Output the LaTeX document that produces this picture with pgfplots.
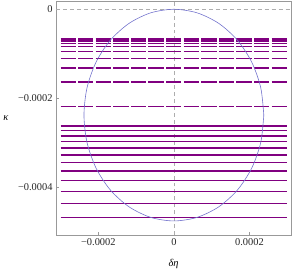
\documentclass[border=0pt]{standalone}
\usepackage{fontspec}
\setmainfont{Liberation Serif}
\usepackage{pgfplots}
\pgfplotsset{compat=1.18}
\definecolor{pdark}{RGB}{128,0,128}
\definecolor{circ}{RGB}{115,115,205}
\definecolor{frame}{RGB}{153,153,153}
\begin{document}
\begin{tikzpicture}
\begin{axis}[
  name=ax,
  scale only axis,
  width=236.5bp, height=235.7bp,
  xmin=-0.000312, xmax=0.00031,
  ymin=-0.000508, ymax=0.0000186,
  axis line style={frame, line width=0.6pt},
  tick style={frame, line width=0.5pt},
  major tick length=3bp,
  tick align=inside,
  xtick={-0.0002,0,0.0002},
  xticklabels={−0.0002,0,0.0002},
  ytick={-0.0004,-0.0002,0},
  yticklabels={−0.0004,−0.0002,0},
  scaled ticks=false,
  tick label style={font=\fontsize{10.5}{12}\selectfont, black!85},
  xtick pos=bottom, ytick pos=left,
  xlabel={\textit{δη}},
  ylabel={\textit{κ}},
  xlabel style={at={(axis description cs:0.5,0)}, anchor=center, yshift=-29bp, font=\fontsize{10.5}{12}\selectfont},
  ylabel style={rotate=-90, at={(axis description cs:0,0.5)}, anchor=center, xshift=-50.5bp, font=\fontsize{10.5}{12}\selectfont},
  sline/.style={pdark, line width=1.5bp, line cap=butt, forget plot},
  dline/.style={pdark, line width=1.5bp, line cap=butt, dash pattern=on 15.4bp off 2.3bp, forget plot},
  gline/.style={frame!80, line width=0.5bp, dash pattern=on 4bp off 3bp, forget plot},
]
% reference dashed lines
\addplot[gline] coordinates {(0,-0.000508) (0,0.0000186)};
\addplot[gline] coordinates {(-0.000312,0) (0.00031,0)};
% dashed levels
\addplot[dline] coordinates {(-0.0003,-6.64e-5) (0.0003,-6.64e-5)};
\addplot[dline] coordinates {(-0.0003,-7.15e-5) (0.0003,-7.15e-5)};
\addplot[dline] coordinates {(-0.0003,-7.69e-5) (0.0003,-7.69e-5)};
\addplot[dline] coordinates {(-0.0003,-8.36e-5) (0.0003,-8.36e-5)};
\addplot[dline] coordinates {(-0.0003,-9.47e-5) (0.0003,-9.47e-5)};
\addplot[dline] coordinates {(-0.0003,-1.104e-4) (0.0003,-1.104e-4)};
\addplot[dline] coordinates {(-0.0003,-1.318e-4) (0.0003,-1.318e-4)};
\addplot[dline] coordinates {(-0.0003,-1.640e-4) (0.0003,-1.640e-4)};
\addplot[dline] coordinates {(-0.0003,-2.190e-4) (0.0003,-2.190e-4)};
% solid levels
\addplot[sline] coordinates {(-0.0003,-2.623e-4) (0.0003,-2.623e-4)};
\addplot[sline] coordinates {(-0.0003,-2.731e-4) (0.0003,-2.731e-4)};
\addplot[sline] coordinates {(-0.0003,-2.847e-4) (0.0003,-2.847e-4)};
\addplot[sline] coordinates {(-0.0003,-2.972e-4) (0.0003,-2.972e-4)};
\addplot[sline] coordinates {(-0.0003,-3.122e-4) (0.0003,-3.122e-4)};
\addplot[sline] coordinates {(-0.0003,-3.278e-4) (0.0003,-3.278e-4)};
\addplot[sline] coordinates {(-0.0003,-3.446e-4) (0.0003,-3.446e-4)};
\addplot[sline] coordinates {(-0.0003,-3.636e-4) (0.0003,-3.636e-4)};
\addplot[sline] coordinates {(-0.0003,-3.852e-4) (0.0003,-3.852e-4)};
\addplot[sline] coordinates {(-0.0003,-4.098e-4) (0.0003,-4.098e-4)};
\addplot[sline] coordinates {(-0.0003,-4.362e-4) (0.0003,-4.362e-4)};
\addplot[sline] coordinates {(-0.0003,-4.681e-4) (0.0003,-4.681e-4)};
% circle
\addplot[circ, line width=0.6bp, smooth, forget plot] coordinates {
(238e-6,-238e-6) (229.9e-6,-176.4e-6) (206.1e-6,-119e-6) (168.3e-6,-69.7e-6)
(119e-6,-31.9e-6) (61.6e-6,-8.1e-6) (0,0) (-61.6e-6,-8.1e-6)
(-119e-6,-31.9e-6) (-168.3e-6,-69.7e-6) (-206.1e-6,-119e-6) (-229.9e-6,-176.4e-6)
(-238e-6,-238e-6) (-229.9e-6,-299.6e-6) (-206.1e-6,-357e-6) (-168.3e-6,-406.3e-6)
(-119e-6,-444.1e-6) (-61.6e-6,-467.9e-6) (0,-476e-6) (61.6e-6,-467.9e-6)
(119e-6,-444.1e-6) (168.3e-6,-406.3e-6) (206.1e-6,-357e-6) (229.9e-6,-299.6e-6)
(238e-6,-238e-6)
};
\end{axis}
\path (ax.south west) ++(-54.5bp,-37.3bp) rectangle ([shift={(1bp,1bp)}]ax.north east);
\end{tikzpicture}
\end{document}
